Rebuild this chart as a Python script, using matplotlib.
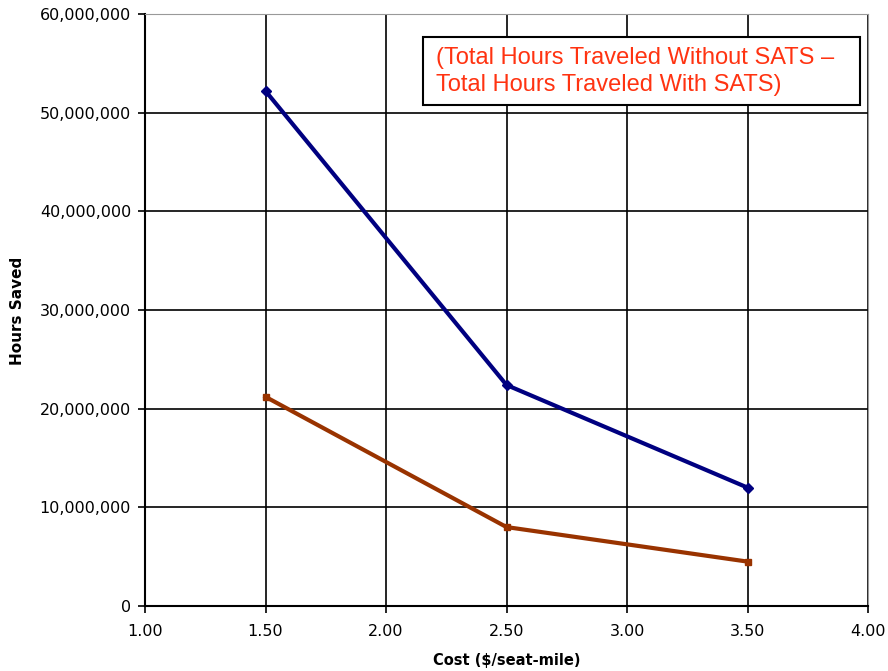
import matplotlib.pyplot as plt
from matplotlib.patches import Rectangle
from matplotlib.ticker import FuncFormatter

cost = [1.5, 2.5, 3.5]
hours_blue = [52_200_000, 22_400_000, 12_000_000]
hours_brown = [21_200_000, 8_000_000, 4_500_000]

x_ticks = [1.0, 1.5, 2.0, 2.5, 3.0, 3.5, 4.0]
y_ticks = [0, 10_000_000, 20_000_000, 30_000_000, 40_000_000, 50_000_000, 60_000_000]

W, H = 888, 671
fig = plt.figure(figsize=(W / 100, H / 100), dpi=100)
ax = fig.add_axes([145 / W, 65 / H, 723 / W, 592 / H])

ax.plot(cost, hours_blue, color="#000080", lw=3, marker="D", ms=5, zorder=3)
ax.plot(cost, hours_brown, color="#993300", lw=3, marker="s", ms=5, zorder=3)

ax.set_xlim(1.0, 4.0)
ax.set_ylim(0, 60_000_000)
ax.set_xticks(x_ticks)
ax.set_yticks(y_ticks)
ax.xaxis.set_major_formatter(FuncFormatter(lambda v, p: f"{v:.2f}"))
ax.yaxis.set_major_formatter(FuncFormatter(lambda v, p: f"{int(v):,}"))
ax.grid(True, color="black", lw=1.2)
ax.set_axisbelow(True)
ax.tick_params(direction="out", length=5, width=1.2, labelsize=11.5, pad=5)
ax.tick_params(axis="x", pad=8)

for s in ["left", "bottom"]:
    ax.spines[s].set_linewidth(1.5)
for s in ["top", "right"]:
    ax.spines[s].set_color("#999999")

ax.set_xlabel("Cost ($/seat-mile)", fontsize=10.5, fontweight="bold", labelpad=10)
fig.text(18 / W, 1 - 311 / H, "Hours Saved", rotation=90, fontsize=11,
         fontweight="bold", ha="center", va="center")

# annotation box
fig.patches.append(Rectangle((423 / W, 1 - 105 / H), 437 / W, 68 / H,
                             transform=fig.transFigure, fc="white",
                             ec="black", lw=1.5, zorder=4))
fig.text(436 / W, 1 - 47 / H,
         "(Total Hours Traveled Without SATS \u2013\nTotal Hours Traveled With SATS)",
         fontsize=17, color="#FF3311", family="Liberation Sans",
         ha="left", va="top", linespacing=1.27, zorder=5)

fig.savefig("out.png", dpi=100)
